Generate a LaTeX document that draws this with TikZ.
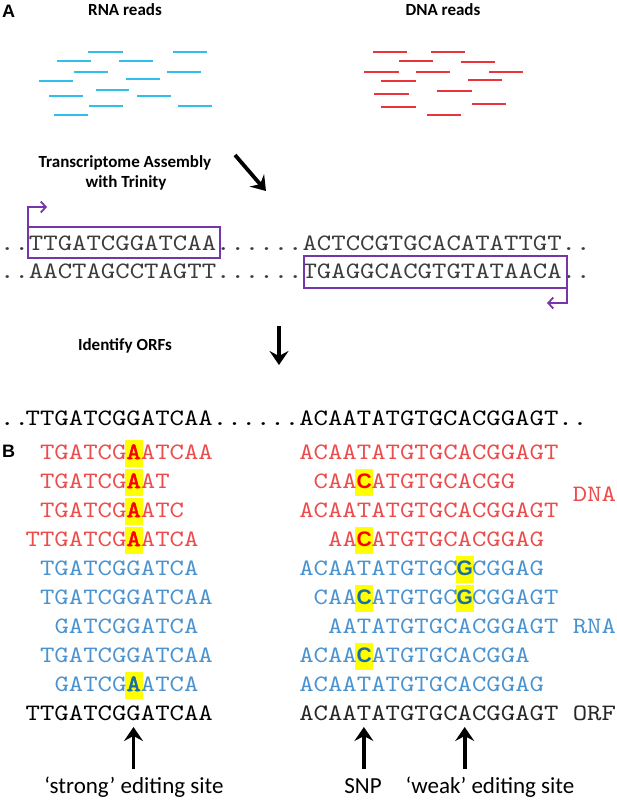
\documentclass[tikz,border=0pt]{standalone}
\usepackage{fontspec}
\setmainfont{Carlito}
\setsansfont{Liberation Sans}
\newfontfamily\seqtt{lmmono10-regular}[Extension=.otf,FakeStretch=1.167]
\newfontfamily\seqttbf{lmmono10-regular}[Extension=.otf,FakeStretch=1.167,FakeBold=2.5]
\usetikzlibrary{arrows.meta}
\definecolor{rnacyan}{HTML}{2FBFEA}
\definecolor{dnared}{HTML}{E8343A}
\definecolor{seqred}{HTML}{EC4C4C}
\definecolor{seqblue}{HTML}{4A93D0}
\definecolor{hlblue}{HTML}{1A6EA6}
\definecolor{hlyellow}{HTML}{FFFF00}
\definecolor{orfpurple}{HTML}{7636A8}
\definecolor{seqgray}{HTML}{3C3C3C}
\newcommand\seqfont{\seqtt\fontsize{23.5}{28}\selectfont}
\newcommand\HlA[2]{\makebox[14.4pt][c]{\textcolor{#1}{\seqttbf #2}}}
\newcommand\HlS[2]{\makebox[14.4pt][c]{\textcolor{#1}{\sffamily\bfseries\fontsize{21}{24}\selectfont #2}}}
\begin{document}
\begin{tikzpicture}[x=1pt,y=-1pt,
  seq/.style={anchor=base west,inner sep=0pt,font=\seqfont},
  head/.style={anchor=base,inner sep=0pt,font=\fontsize{17}{20}\selectfont\bfseries},
  lab/.style={anchor=base,inner sep=0pt,font=\fontsize{23}{26}\selectfont},
  panel/.style={anchor=base west,inner sep=0pt,font=\sffamily\bfseries\fontsize{18}{20}\selectfont},
  rread/.style={draw=rnacyan,line width=2.2pt},
  dread/.style={draw=dnared,line width=2.2pt},
  bigarrow/.style={draw=black,line width=3.8pt,-{Stealth[length=14pt,width=19pt,inset=5pt]}},
  orfbox/.style={draw=orfpurple,line width=1.8pt},
  orfarrow/.style={draw=orfpurple,line width=1.8pt,-{Straight Barb[length=5pt,width=11pt]}},
  hlbox/.style={fill=hlyellow}]
\useasboundingbox (0,0) rectangle (617,803);
\def\xo{-3.3}\def\cw{14.4}
% ---------- panel A ----------
\node[panel] (pA) at (2,17) {A};
\node[head] (rnah) at (125,16) {RNA reads};
\node[head] (dnah) at (443,16) {DNA reads};
% RNA reads
\foreach \a/\b/\y in {88/123/52,173/207/52,57/91/61,119/153/61,74/108/72,167/201/72,39/73/81,126/160/79,96/129/90,49/83/96,137/171/96,89/123/106,178/212/106,54/88/115}
  \draw[rread] (\a,\y) -- (\b,\y);
% DNA reads
\foreach \a/\b/\y in {373/407/52,431/465/52,399/433/61,461/495/62,364/399/72,416/450/72,489/523/72,381/416/81,468/502/80,437/472/91,374/409/94,472/506/104,381/416/107,427/461/115}
  \draw[dread] (\a,\y) -- (\b,\y);
\node[head] (t1) at (125,167) {Transcriptome Assembly};
\node[head] (t2) at (126,187) {with Trinity};
\coordinate (d1) at (235,155);
\coordinate (d2) at (266,191);
\draw[bigarrow] (d1) -- (d2);
% assembled contig
\node[seq,text=seqgray] (as1) at (0,250) {..TTGATCGGATCAA......ACTCCGTGCACATATTGT..};
\node[seq,text=seqgray] (as2) at (0,278) {..AACTAGCCTAGTT......TGAGGCACGTGTATAACA..};
\draw[orfbox] (28,227) rectangle (220,258);
\draw[orfbox] (304,256) rectangle (567,288);
\coordinate (o1a) at (28,227); \coordinate (o1b) at (28,207); \coordinate (o1c) at (47,207);
\draw[orfarrow] (o1a) -- (o1b) -- (o1c);
\coordinate (o2a) at (567,288); \coordinate (o2b) at (567,303); \coordinate (o2c) at (547,303);
\draw[orfarrow] (o2a) -- (o2b) -- (o2c);
\node[head] (t3) at (125,350) {Identify ORFs};
\coordinate (e1) at (279,326);
\coordinate (e2) at (279,365);
\draw[bigarrow] (e1) -- (e2);
\node[seq,text=black] (orf0a) at (0,425) {..};
\node[seq,text=black] (orf0b) at ({\xo+2*\cw},425) {TTGATCGGATCAA......ACAATATGTGCACGGAGT..};
% ---------- panel B ----------
\node[panel] (pB) at (2,457) {B};
% yellow highlights (cell index / baseline)
\foreach \c/\y in {9/459,9/488,9/517,9/546,9/691,25/488,25/546,32/575,25/604,32/604,25/662}
  \fill[hlbox] ({\xo+(\c+0.5)*\cw-9},{\y-19}) rectangle +(18,27);
% left column
\node[seq,text=seqred]  (l1)  at ({\xo+3*\cw},459) {TGATCG\HlA{red}{A}ATCAA};
\node[seq,text=seqred]  (l2)  at ({\xo+3*\cw},488) {TGATCG\HlA{red}{A}AT};
\node[seq,text=seqred]  (l3)  at ({\xo+3*\cw},517) {TGATCG\HlA{red}{A}ATC};
\node[seq,text=seqred]  (l4)  at ({\xo+2*\cw},546) {TTGATCG\HlA{red}{A}ATCA};
\node[seq,text=seqblue] (l5)  at ({\xo+3*\cw},575) {TGATCGGATCA};
\node[seq,text=seqblue] (l6)  at ({\xo+3*\cw},604) {TGATCGGATCAA};
\node[seq,text=seqblue] (l7)  at ({\xo+4*\cw},633) {GATCGGATCA};
\node[seq,text=seqblue] (l8)  at ({\xo+3*\cw},662) {TGATCGGATCAA};
\node[seq,text=seqblue] (l9)  at ({\xo+4*\cw},691) {GATCG\HlA{hlblue}{A}ATCA};
\node[seq,text=black]   (l10) at ({\xo+2*\cw},720) {TTGATCGGATCAA};
% right column
\node[seq,text=seqred]  (r1)  at ({\xo+21*\cw},459) {ACAATATGTGCACGGAGT};
\node[seq,text=seqred]  (r2)  at ({\xo+22*\cw},488) {CAA\HlS{red}{C}ATGTGCACGG};
\node[seq,text=seqred]  (dnal) at ({\xo+40*\cw},501) {DNA};
\node[seq,text=seqred]  (r3)  at ({\xo+21*\cw},517) {ACAATATGTGCACGGAGT};
\node[seq,text=seqred]  (r4)  at ({\xo+23*\cw},546) {AA\HlS{red}{C}ATGTGCACGGAG};
\node[seq,text=seqblue] (r5)  at ({\xo+21*\cw},575) {ACAATATGTGC\HlS{hlblue}{G}CGGAG};
\node[seq,text=seqblue] (r6)  at ({\xo+22*\cw},604) {CAA\HlS{hlblue}{C}ATGTGC\HlS{hlblue}{G}CGGAGT};
\node[seq,text=seqblue] (r7)  at ({\xo+23*\cw},633) {AATATGTGCACGGAGT RNA};
\node[seq,text=seqblue] (r8)  at ({\xo+21*\cw},662) {ACAA\HlS{hlblue}{C}ATGTGCACGGA};
\node[seq,text=seqblue] (r9)  at ({\xo+21*\cw},691) {ACAATATGTGCACGGAG};
\node[seq,text=black!85] (r10) at ({\xo+21*\cw},720) {ACAATATGTGCACGGAGT ORF};
% site arrows
\coordinate (s1b) at ({\xo+9.5*\cw},769);  \coordinate (s1t) at ({\xo+9.5*\cw},727);
\coordinate (s2b) at ({\xo+25.5*\cw},769); \coordinate (s2t) at ({\xo+25.5*\cw},727);
\coordinate (s3b) at ({\xo+32.5*\cw},769); \coordinate (s3t) at ({\xo+32.5*\cw},727);
\draw[bigarrow] (s1b) -- (s1t);
\draw[bigarrow] (s2b) -- (s2t);
\draw[bigarrow] (s3b) -- (s3t);
\node[lab] (lb1) at (134,793) {‘strong’ editing site};
\node[lab] (lb2) at (363,793) {SNP};
\node[lab] (lb3) at (490,793) {‘weak’ editing site};
\end{tikzpicture}
\end{document}
